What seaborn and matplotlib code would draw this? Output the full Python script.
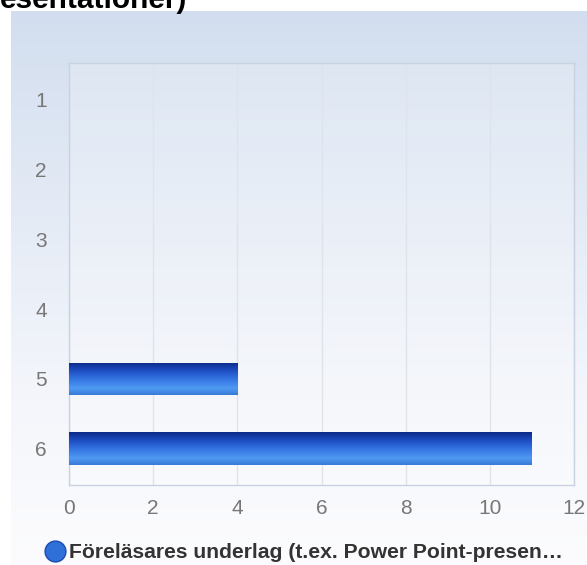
import matplotlib
matplotlib.use("Agg")
import matplotlib.pyplot as plt
from matplotlib.colors import LinearSegmentedColormap
from matplotlib.lines import Line2D
import seaborn as sns
import pandas as pd
import numpy as np

# data
categories = ["1", "2", "3", "4", "5", "6"]
counts = [0, 0, 0, 0, 4, 11]
series_name = "Föreläsares underlag (t.ex. Power Point-presen…"
title_tail = "esentationer)"
x_ticks = [0, 2, 4, 6, 8, 10, 12]

df = pd.DataFrame({"answer": categories, "count": counts})

sns.set_theme(style="white")
plt.rcParams["font.family"] = ["Liberation Sans", "DejaVu Sans"]

fig = plt.figure(figsize=(5.87, 5.65), dpi=100)

# panel background gradient (light blue at top, nearly white at bottom)
bg = fig.add_axes([11 / 587, 0, 1 - 11 / 587, (565 - 11) / 565], zorder=-10)
bg_cmap = LinearSegmentedColormap.from_list(
    "bg", [(0, "#d2deef"), (0.4, "#e6ecf6"), (0.7, "#f4f6fb"), (1, "#fcfcfe")])
bg.imshow(np.linspace(0, 1, 256).reshape(-1, 1), cmap=bg_cmap, aspect="auto",
          extent=(0, 1, 0, 1), origin="upper")
bg.set_axis_off()

ax = fig.add_axes([69 / 587, 1 - 485 / 565, (574 - 69) / 587, (485 - 63) / 565])
ax.set_facecolor((1, 1, 1, 0.2))

sns.barplot(data=df, x="count", y="answer", order=categories, orient="h",
            width=0.47, color="#2f6fd8", ax=ax, zorder=3)

# gradient fill on each bar, clipped to the bar shape
bar_cmap = LinearSegmentedColormap.from_list(
    "bar", ["#0c2a86", "#1a46b8", "#2a63d6", "#3b80e8", "#4f9af2", "#3a7ad8"])
grad = np.linspace(0, 1, 64).reshape(-1, 1)
for p in ax.patches:
    w = p.get_width()
    if w <= 0:
        p.set_visible(False)
        continue
    y0, h = p.get_y(), p.get_height()
    p.set_facecolor("none")
    p.set_edgecolor("none")
    im = ax.imshow(grad, cmap=bar_cmap, aspect="auto", origin="upper",
                   extent=(p.get_x(), p.get_x() + w, y0 + h, y0), zorder=3)
    im.set_clip_path(p)

ax.set_xlim(0, 12)
ax.set_ylim(5.52, -0.53)
ax.set_xticks(x_ticks)
ax.set_xticklabels([str(t) for t in x_ticks])
ax.grid(axis="x", color="#dfe4ec", linewidth=1, zorder=0)
ax.grid(axis="y", visible=False)
ax.tick_params(axis="both", length=0, labelsize=15, labelcolor="#777777")
ax.tick_params(axis="x", pad=10)
ax.tick_params(axis="y", pad=16)
ax.set_xlabel("")
ax.set_ylabel("")
for s in ax.spines.values():
    s.set_color("#c8d2e0")
    s.set_linewidth(1)

# cut-off title at the very top
fig.text(0.0, 1 - 8 / 565, title_tail, fontsize=21.5, fontweight="bold",
         color="black", ha="left", va="baseline")

# legend at the bottom
handle = Line2D([], [], marker="o", linestyle="none", markersize=15,
                markerfacecolor="#2f6fd8", markeredgecolor="#1a4bb0")
fig.legend([handle], [series_name], loc="center left",
           bbox_to_anchor=(34 / 587, 1 - 553 / 565), frameon=False,
           prop={"weight": "bold", "size": 15.2}, labelcolor="#333333",
           handletextpad=0.05, borderaxespad=0, handlelength=1.2)

fig.savefig("out.png", dpi=100)
